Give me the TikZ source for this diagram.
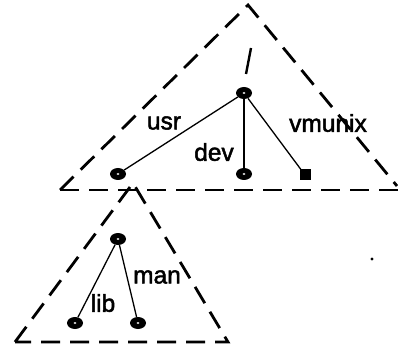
\documentclass[tikz,border=0pt]{standalone}
\usepackage{fontspec}
\setmainfont{Liberation Sans}
\newfontfamily\lblfont[FakeBold=2]{Liberation Sans}
\usetikzlibrary{shapes.geometric}
\begin{document}
\begin{tikzpicture}[x=1pt,y=-1pt,
  dir/.style={ellipse,fill=black,minimum width=16pt,minimum height=12pt,inner sep=0pt,
    path picture={\fill[white] (path picture bounding box.center) ellipse (1.4pt and 1pt);}},
  filebox/.style={rectangle,fill=black,minimum size=11pt,inner sep=0pt},
  hull/.style={line width=2.8pt,dash pattern=on 19pt off 10pt},
  edge/.style={line width=1.3pt},
  lbl/.style={font=\lblfont\fontsize{24.5}{26}\selectfont,inner sep=0pt}]
\useasboundingbox (0,0) rectangle (401,347);
% big triangle
\coordinate (A) at (248,5);
\coordinate (L) at (60,190);
\coordinate (R) at (397,186);
\coordinate (BR) at (401,190);
\draw[hull] (L) -- (A) -- (R);
\draw[hull] (L) -- (BR);
\coordinate (s1) at (251,48);
\coordinate (s2) at (246,74);
\draw[line width=2.4pt] (s1) -- (s2);
% nodes
\node[dir] (root) at (244,93) {};
\node[dir] (usr) at (118,174) {};
\node[dir] (dev) at (244,174) {};
\node[filebox] (vm) at (305,175) {};
\draw[edge] (root) -- (usr);
\draw[edge] (root) -- (dev);
\draw[edge] (root) -- (vm);
\node[lbl] (tusr) at (164,123) {usr};
\node[lbl] (tdev) at (214,152) {dev};
\node[lbl] (tvm) at (328,123) {vmunix};
% small triangle
\coordinate (a) at (133,183);
\coordinate (l) at (15,342);
\coordinate (r) at (228,342);
\draw[hull] (l) -- (a) -- (r) -- cycle;
\node[dir] (sroot) at (118,239) {};
\node[dir] (lib) at (75,323) {};
\node[dir] (man) at (138,323) {};
\draw[edge] (sroot) -- (lib);
\draw[edge] (sroot) -- (man);
\node[lbl] (tman) at (157,277) {man};
\node[lbl] (tlib) at (103,303) {lib};
% stray dot
\fill (372,259) circle (1.6pt);
\end{tikzpicture}
\end{document}
